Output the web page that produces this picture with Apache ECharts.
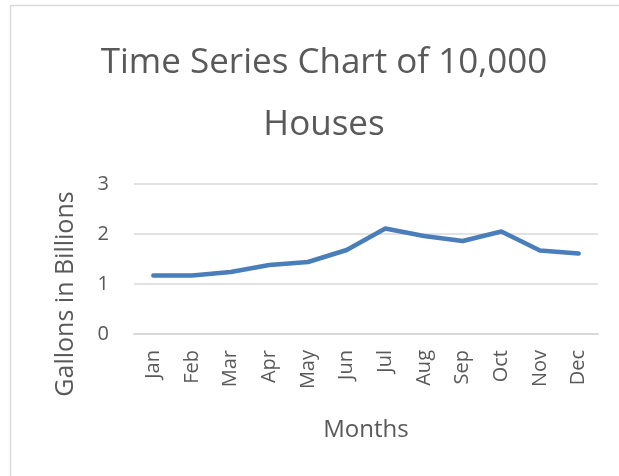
<!DOCTYPE html>
<html>
<head>
<meta charset="utf-8">
<script src="https://cdn.jsdelivr.net/npm/echarts@6/dist/echarts.min.js"></script>
<style>
  html, body { margin: 0; padding: 0; background: #fff; }
  #chart { width: 619px; height: 476px; }
</style>
</head>
<body>
<div id="chart"></div>
<script>
const months = ['Jan', 'Feb', 'Mar', 'Apr', 'May', 'Jun', 'Jul', 'Aug', 'Sep', 'Oct', 'Nov', 'Dec']
const gallons = [1.17, 1.17, 1.24, 1.38, 1.44, 1.68, 2.11, 1.96, 1.86, 2.05, 1.67, 1.61]
const yTicks = [0, 1, 2, 3]

const font = '"Open Sans", "Noto Sans", sans-serif'
const textColor = '#595959'

const myChart = echarts.init(document.getElementById('chart'))

const option = {
    animation: false,
    title: {
        text: 'Time Series Chart of 10,000\nHouses',
        left: 319,
        top: 27,
        textAlign: 'center',
        textStyle: {
            fontFamily: font,
            fontSize: 35,
            fontWeight: 'normal',
            color: textColor,
            lineHeight: 62
        }
    },
    graphic: [{
        type: 'rect',
        shape: { x: 10.5, y: 5.5, width: 700, height: 600 },
        style: { fill: 'none', stroke: '#d9d9d9', lineWidth: 1.5 },
        silent: true
    }],
    grid: {
        left: 134,
        right: 21,
        top: 184,
        bottom: 142
    },
    xAxis: {
        type: 'category',
        data: months,
        boundaryGap: true,
        name: 'Months',
        nameLocation: 'middle',
        nameGap: 84,
        nameTextStyle: { fontFamily: font, fontSize: 24, color: textColor },
        axisLine: { lineStyle: { color: '#d9d9d9', width: 2 } },
        axisTick: { show: false },
        axisLabel: {
            rotate: 90,
            margin: 16,
            fontFamily: font,
            fontSize: 20,
            color: textColor
        }
    },
    yAxis: {
        type: 'value',
        min: 0,
        max: 3,
        interval: 1,
        name: 'Gallons in Billions',
        nameLocation: 'middle',
        nameGap: 56,
        nameTextStyle: {
            fontFamily: font,
            fontSize: 25,
            color: textColor,
            padding: [0, 70, 0, 0]
        },
        axisLine: { show: false },
        axisTick: { show: false },
        splitLine: { lineStyle: { color: '#d9d9d9', width: 1.5 } },
        axisLabel: {
            margin: 25,
            fontFamily: font,
            fontSize: 20,
            color: textColor,
            formatter: v => yTicks.includes(v) ? String(v) : ''
        }
    },
    series: [{
        type: 'line',
        data: gallons,
        symbol: 'none',
        lineStyle: { color: '#4a7ebb', width: 4.5, cap: 'round', join: 'round' }
    }]
}

myChart.setOption(option)
window.addEventListener('resize', () => myChart.resize())
</script>
</body>
</html>
